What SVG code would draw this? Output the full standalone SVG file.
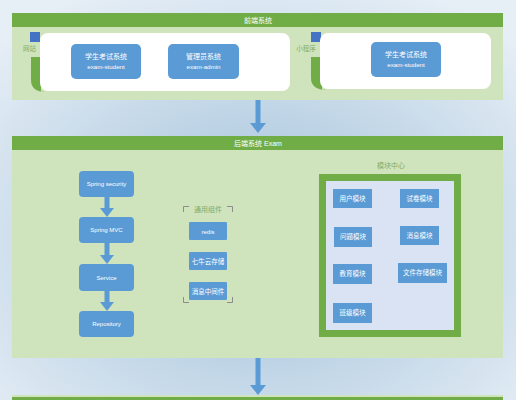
<svg xmlns="http://www.w3.org/2000/svg" width="516" height="400" viewBox="0 0 516 400">
<style>
.hdr{fill:#70ad47}
.pnl{fill:#cfe3bc}
.box{fill:#5b9bd5}
.sq{fill:#4472c4}
.arr{fill:#5b9bd5}
.t{font-family:"Liberation Sans","Noto Sans CJK SC",sans-serif;fill:#ffffff;text-anchor:middle}
.lbl{font-family:"Liberation Sans","Noto Sans CJK SC",sans-serif;fill:#86ad67;text-anchor:middle}
.br{fill:none;stroke:#8c8c8c;stroke-width:1}
</style>
<defs>
<radialGradient id="bg" cx="0.5" cy="0.6" r="0.7">
<stop offset="0" stop-color="#9fc0d9"/>
<stop offset="1" stop-color="#e6eef6"/>
</radialGradient>
</defs>
<rect x="0" y="0" width="516" height="400" fill="url(#bg)"/>

<g id="frontend">
<rect class="hdr" x="12" y="13" width="491" height="14"/>
<text class="t" x="258" y="22.5" font-size="7">前端系统</text>
<rect class="pnl" x="12" y="27" width="491" height="73"/>
</g>

<g id="website">
<rect class="sq" x="30" y="32" width="10" height="10"/>
<text class="lbl" x="29.5" y="51" font-size="6.5">网站</text>
<path d="M31,57 H41 V92 H46 Q31,92 31,80 Z" fill="#70ad47"/>
<rect x="40" y="33" width="250" height="58" rx="8" fill="#ffffff"/>
</g>
<g id="web-student">
<rect class="box" x="71" y="44" width="70" height="35" rx="5"/>
<text class="t" x="106" y="59" font-size="7">学生考试系统</text>
<text class="t" x="106" y="69" font-size="6.2">exam-student</text>
</g>
<g id="web-admin">
<rect class="box" x="168" y="44" width="71" height="35" rx="5"/>
<text class="t" x="203.5" y="59" font-size="7">管理员系统</text>
<text class="t" x="203.5" y="69" font-size="6.2">exam-admin</text>
</g>

<g id="miniprogram">
<rect class="sq" x="311" y="32" width="10" height="10"/>
<path d="M311,57 H322 V90 H327 Q311,90 311,78 Z" fill="#70ad47"/>
<rect x="320" y="33" width="171" height="56" rx="8" fill="#ffffff"/>
<text class="lbl" x="306" y="51" font-size="6.5">小程序</text>
</g>
<g id="mini-student">
<rect class="box" x="371" y="42" width="70" height="35" rx="5"/>
<text class="t" x="406" y="57" font-size="7">学生考试系统</text>
<text class="t" x="406" y="67" font-size="6.2">exam-student</text>
</g>

<g id="backend">
<rect class="hdr" x="12" y="136" width="491" height="14"/>
<text class="t" x="258" y="145.5" font-size="7">后端系统 Exam</text>
<rect class="pnl" x="12" y="150" width="491" height="208"/>
</g>

<g id="spring-security">
<rect class="box" x="79" y="171" width="55" height="26" rx="4"/>
<text class="t" x="106.5" y="186" font-size="6">Spring security</text>
</g>
<g id="spring-mvc">
<rect class="box" x="79" y="217" width="55" height="26" rx="4"/>
<text class="t" x="106.5" y="232" font-size="6">Spring MVC</text>
</g>
<g id="service">
<rect class="box" x="79" y="264" width="55" height="27" rx="4"/>
<text class="t" x="106.5" y="279.5" font-size="6">Service</text>
</g>
<g id="repository">
<rect class="box" x="79" y="311" width="55" height="26" rx="4"/>
<text class="t" x="106.5" y="326" font-size="6">Repository</text>
</g>

<g id="common">
<path class="br" d="M183.5,212 V206.5 H189"/>
<path class="br" d="M227,206.5 H232.5 V212"/>
<path class="br" d="M183.5,297 V302.5 H189"/>
<path class="br" d="M227,302.5 H232.5 V297"/>
<text class="lbl" x="208" y="212" font-size="7">通用组件</text>
</g>
<g id="redis">
<rect class="box" x="189" y="222" width="38" height="18" rx="1"/>
<text class="t" x="208" y="233.5" font-size="6">redis</text>
</g>
<g id="qiniu">
<rect class="box" x="189" y="252" width="38" height="18" rx="1"/>
<text class="t" x="208" y="263.5" font-size="6.5">七牛云存储</text>
</g>
<g id="mq">
<rect class="box" x="189" y="282" width="38" height="18" rx="1"/>
<text class="t" x="208" y="293.5" font-size="6.5">消息中间件</text>
</g>

<g id="module-center">
<text class="lbl" x="391" y="168" font-size="7">模块中心</text>
<rect x="322.5" y="177.5" width="135" height="156" fill="#dae3f3" stroke="#70ad47" stroke-width="7"/>
</g>
<g id="m-user">
<rect class="box" x="333" y="189" width="39" height="19"/>
<text class="t" x="352.5" y="200.5" font-size="6.5">用户模块</text>
</g>
<g id="m-paper">
<rect class="box" x="400" y="189" width="39" height="19"/>
<text class="t" x="419.5" y="200.5" font-size="6.5">试卷模块</text>
</g>
<g id="m-question">
<rect class="box" x="334" y="227" width="38" height="20"/>
<text class="t" x="353" y="239" font-size="6.5">问题模块</text>
</g>
<g id="m-message">
<rect class="box" x="400" y="226" width="39" height="19"/>
<text class="t" x="419.5" y="237.5" font-size="6.5">消息模块</text>
</g>
<g id="m-edu">
<rect class="box" x="333" y="264" width="39" height="20"/>
<text class="t" x="352.5" y="276" font-size="6.5">教育模块</text>
</g>
<g id="m-file">
<rect class="box" x="398" y="263" width="49" height="20"/>
<text class="t" x="422.5" y="275" font-size="6.5">文件存储模块</text>
</g>
<g id="m-class">
<rect class="box" x="333" y="303" width="39" height="20"/>
<text class="t" x="352.5" y="315" font-size="6.5">班级模块</text>
</g>

<g id="bottom">
<rect x="12" y="395" width="491" height="2" fill="#cfe3bc"/>
<rect class="hdr" x="12" y="397" width="491" height="3"/>
</g>

<g id="connectors">
<rect class="arr" x="255.5" y="100" width="5" height="24"/>
<polygon class="arr" points="250,123 266,123 258,133"/>
<rect class="arr" x="255.5" y="358" width="5" height="28"/>
<polygon class="arr" points="250,385 266,385 258,395"/>
<rect class="arr" x="104.5" y="197" width="5" height="12"/>
<polygon class="arr" points="100,208 114,208 107,217"/>
<rect class="arr" x="104.5" y="243" width="5" height="13"/>
<polygon class="arr" points="100,255 114,255 107,264"/>
<rect class="arr" x="104.5" y="291" width="5" height="12"/>
<polygon class="arr" points="100,302 114,302 107,311"/>
</g>
</svg>
